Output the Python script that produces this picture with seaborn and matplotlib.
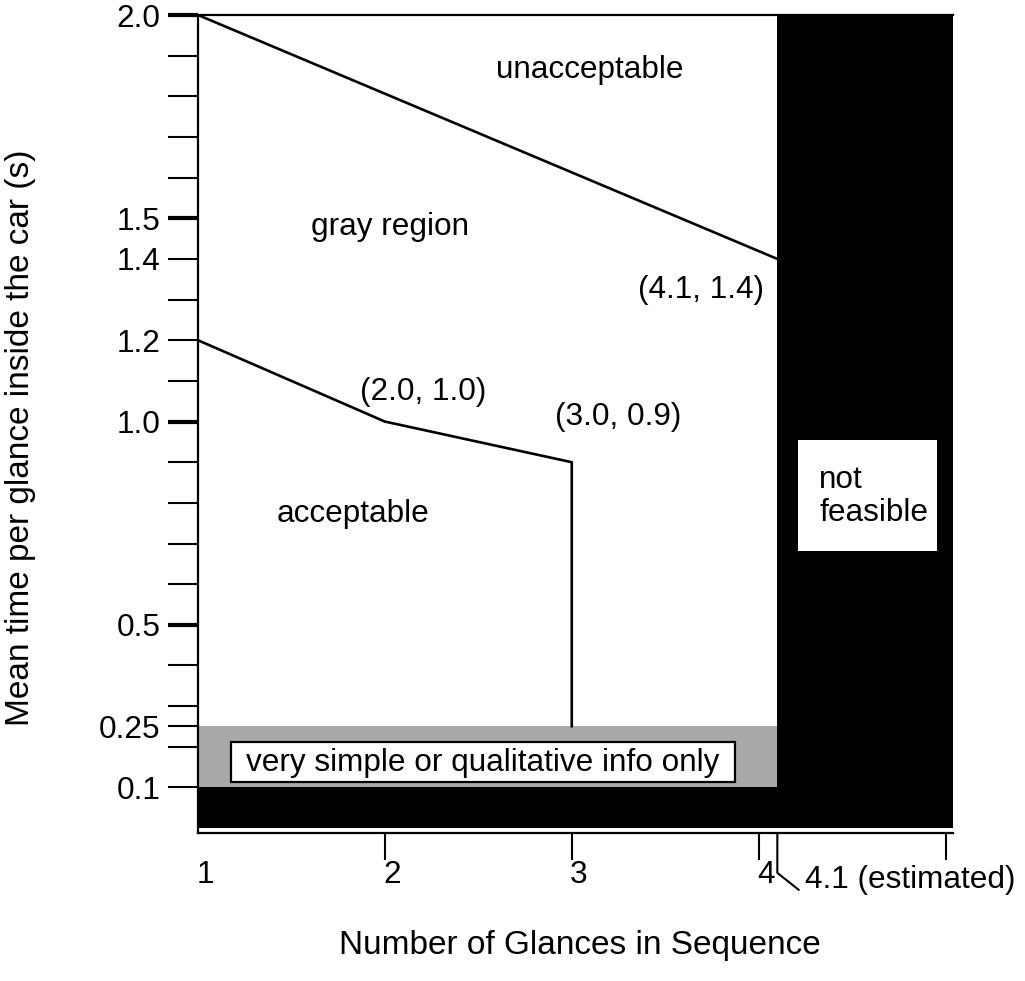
import matplotlib
matplotlib.use('Agg')
import matplotlib.pyplot as plt
import matplotlib.transforms as mtransforms
from matplotlib.patches import Rectangle
import pandas as pd
import seaborn as sns

# boundary lines of the glance acceptance chart
upper_x = [1.0, 4.1]
upper_y = [2.0, 1.4]
lower_x = [1.0, 2.0, 3.0, 3.0]
lower_y = [1.2, 1.0, 0.9, 0.25]

# region limits
feasible_limit = 4.1
simple_info_max = 0.25
floor_max = 0.1

y_ticks = [0.1, 0.2, 0.25, 0.3, 0.4, 0.5, 0.6, 0.7, 0.8, 0.9, 1.0,
           1.1, 1.2, 1.3, 1.4, 1.5, 1.6, 1.7, 1.8, 1.9, 2.0]
y_labeled = [0.1, 0.25, 0.5, 1.0, 1.2, 1.4, 1.5, 2.0]
y_thick = [0.5, 1.0, 1.5, 2.0]
x_ticks = [1, 2, 3, 4, 5]
x_labels = ['1', '2', '3', '4', '']

sns.set_theme(style='white')
plt.rcParams['font.family'] = ['Liberation Sans', 'DejaVu Sans']
plt.rcParams['text.color'] = 'black'
plt.rcParams['axes.labelcolor'] = 'black'
FS = 22.7

fig = plt.figure(figsize=(10.25, 9.81), dpi=100)
ax = fig.add_axes([198 / 1025, 1 - 833 / 981, (953 - 198) / 1025, (833 - 15) / 981])
ax.set_xlim(1, 5.04)
ax.set_ylim(-0.012, 2.0)

# shaded zones
ax.add_patch(Rectangle((1, floor_max), feasible_limit - 1, simple_info_max - floor_max,
                       facecolor='#a8a8a8', edgecolor='none', zorder=1))
ax.add_patch(Rectangle((1, 0), feasible_limit - 1, floor_max,
                       facecolor='black', edgecolor='none', zorder=1))
ax.add_patch(Rectangle((feasible_limit, 0), 5.04 - feasible_limit, 2.0,
                       facecolor='black', edgecolor='none', zorder=1))

# boundary lines
lines = pd.DataFrame({'x': upper_x + lower_x,
                      'y': upper_y + lower_y,
                      'line': ['upper'] * len(upper_x) + ['lower'] * len(lower_x)})
sns.lineplot(data=lines, x='x', y='y', units='line', estimator=None, sort=False,
             color='black', linewidth=1.9, ax=ax, zorder=3)
ax.set_xlabel('')
ax.set_ylabel('')

# label boxes
ax.add_patch(Rectangle((1.176, 0.113), 3.872 - 1.176, 0.212 - 0.113,
                       facecolor='white', edgecolor='black', linewidth=1.6, zorder=4))
ax.text(2.524, 0.160, 'very simple or qualitative info only', ha='center', va='center',
        fontsize=FS, zorder=5)
ax.add_patch(Rectangle((4.209, 0.681), 4.952 - 4.209, 0.954 - 0.681,
                       facecolor='white', edgecolor='none', zorder=4))
ax.text(4.325, 0.815, 'not\nfeasible', ha='left', va='center', fontsize=FS,
        linespacing=1.15, zorder=5)

# region and point labels
ax.text(3.096, 1.865, 'unacceptable', ha='center', va='center', fontsize=FS)
ax.text(2.03, 1.478, 'gray region', ha='center', va='center', fontsize=FS)
ax.text(1.83, 0.772, 'acceptable', ha='center', va='center', fontsize=FS)
ax.text(4.03, 1.323, '(4.1, 1.4)', ha='right', va='center', fontsize=FS)
ax.text(1.866, 1.073, '(2.0, 1.0)', ha='left', va='center', fontsize=FS)
ax.text(2.91, 1.012, '(3.0, 0.9)', ha='left', va='center', fontsize=FS)

# spines
sns.despine(ax=ax, top=False, right=True)
for side in ['left', 'bottom', 'top']:
    ax.spines[side].set_linewidth(1.6)
    ax.spines[side].set_color('black')
    ax.spines[side].set_zorder(2)

# y ticks
ax.set_yticks(y_ticks)
ax.yaxis.set_major_formatter(plt.FixedFormatter(
    [('%.2f' % v if v == 0.25 else '%.1f' % v) if v in y_labeled else '' for v in y_ticks]))
ax.tick_params(axis='y', direction='out', length=21.6, width=1.5, pad=5.5,
               left=True, colors='black', labelsize=FS)
for tick, v in zip(ax.yaxis.get_major_ticks(), y_ticks):
    if v in y_thick:
        tick.tick1line.set_markeredgewidth(3.0)

# x ticks
ax.set_xticks(x_ticks)
ax.set_xticklabels(x_labels, fontsize=FS)
ax.tick_params(axis='x', direction='out', length=19.5, width=1.5, pad=0,
               bottom=True, colors='black', labelsize=FS)
ax.xaxis.get_major_ticks()[0].tick1line.set_visible(False)
shift = mtransforms.ScaledTranslation(0.07, 0, fig.dpi_scale_trans)
for lab in ax.get_xticklabels():
    lab.set_transform(lab.get_transform() + shift)

# estimated limit marker below the axis
ax.plot([feasible_limit, feasible_limit, 4.215], [-0.012, -0.11, -0.152],
        color='black', linewidth=1.5, clip_on=False, zorder=5)
ax.text(4.25, -0.128, '4.1 (estimated)', ha='left', va='center', fontsize=FS,
        clip_on=False)

ax.set_xlabel('Number of Glances in Sequence', fontsize=24)
ax.xaxis.set_label_coords(0.506, -0.119)
ax.set_ylabel('Mean time per glance inside the car (s)', fontsize=24)
ax.yaxis.set_label_coords(-0.215, 0.483)

fig.savefig('out.png', dpi=100, facecolor='white')
